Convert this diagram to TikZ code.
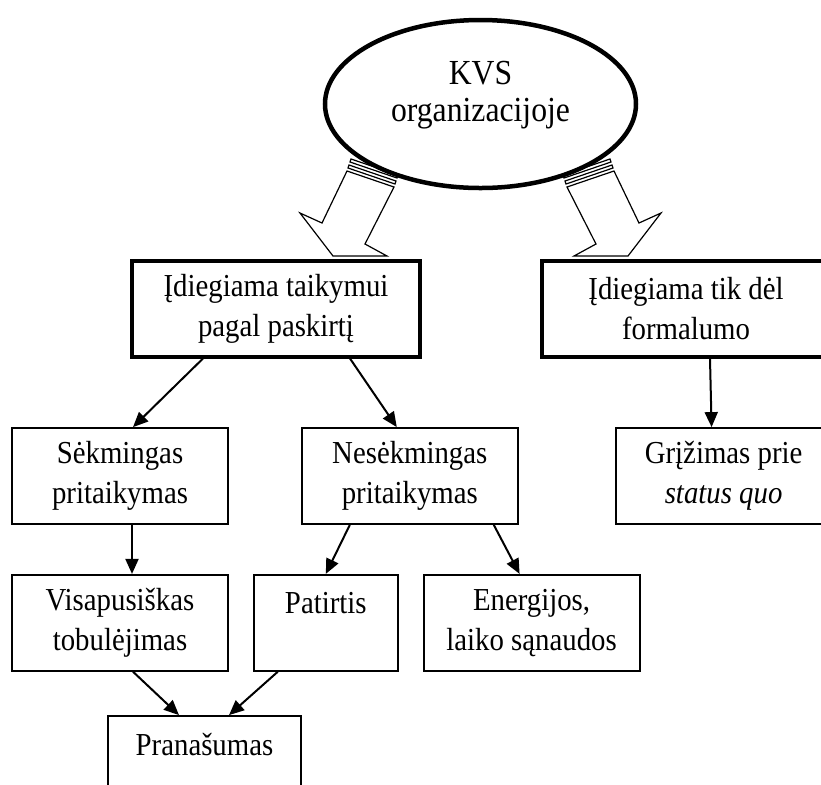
\documentclass[tikz,border=0pt]{standalone}
\usepackage{fontspec}
\setmainfont{Liberation Serif}[FakeStretch=0.9]
\usetikzlibrary{arrows.meta,positioning,shapes.geometric,backgrounds}

\begin{document}
\begin{tikzpicture}[x=0.5pt, y=-0.5pt,
        box/.style={draw, fill=white, line width=0.9pt, align=center,
                    font=\fontsize{16}{20}\selectfont,
                    minimum width=108pt, minimum height=48pt, inner sep=0pt},
        bbox/.style={box, line width=2pt, minimum width=144pt},
        oval/.style={ellipse, draw, fill=white, line width=2.25pt, align=center,
                     font=\fontsize{17.6}{18.5}\selectfont, inner sep=0pt,
                     minimum width=155.5pt, minimum height=84pt, text depth=13pt},
        arr/.style={-{Triangle[length=7.5pt,width=6.5pt]}, line width=1pt},
        blk/.style={draw, fill=white, line width=0.6pt, line join=miter}
      ]
        \useasboundingbox (0,0) rectangle (821,784);
        \node[oval] (kvs) at (480.5,104) {KVS\\organizacijoje};
        \node[bbox] (paskirtis) at (276,308.5) {Įdiegiama taikymui\\pagal paskirtį};
        \node[bbox] (formalumas) [right=59pt of paskirtis] {Įdiegiama tik dėl\\formalumo};
        \node[box] (sekm) at (120,476) {Sėkmingas\\pritaikymas};
        \node[box] (nesekm) [right=36pt of sekm] {Nesėkmingas\\pritaikymas};
        \node[box] (grizimas) [right=48pt of nesekm] {Grįžimas prie\\\textit{status quo}};
        \node[box] (tobulejimas) [below=24.5pt of sekm] {Visapusiškas\\tobulėjimas};
        \node[box, minimum width=72pt] (patirtis) [right=12pt of tobulejimas] {Patirtis\\\mbox{}};
        \node[box] (sanaudos) [right=12pt of patirtis] {Energijos,\\laiko sąnaudos};
        \node[box, minimum width=96.5pt] (pranasumas) at (204.5,764) {Pranašumas\\\mbox{}};
        % striped block arrows out of the ellipse
        \begin{scope}[on background layer]
          \foreach \s in {1,-1} {
            \begin{scope}[shift={(480.5,0)}, xscale=\s]
              \draw[blk] (-129.5,159) -- (-82.5,175) -- (-83.5,178) -- (-130.5,162) -- cycle;
              \draw[blk] (-131.5,165) -- (-84.5,181) -- (-85.5,184) -- (-132.5,168) -- cycle;
              \draw[blk] (-133.5,171) -- (-86.5,187) -- (-115.5,244) -- (-93.5,256)
                -- (-147.5,256) -- (-180.5,213) -- (-158.5,223) -- cycle;
            \end{scope}
          }
        \end{scope}
        \draw[arr] ([xshift=-36.5pt]paskirtis.south) -- ([xshift=6.5pt]sekm.north);
        \draw[arr] ([xshift=37pt]paskirtis.south) -- ([xshift=-6.5pt]nesekm.north);
        \draw[arr] ([xshift=12pt]formalumas.south) -- ([xshift=-6pt]grizimas.north);
        \draw[arr] ([xshift=6pt]sekm.south) -- ([xshift=6pt]tobulejimas.north);
        \draw[arr] ([xshift=-30pt]nesekm.south) -- (patirtis.north);
        \draw[arr] ([xshift=42pt]nesekm.south) -- ([xshift=-6pt]sanaudos.north);
        \draw[arr] ([xshift=6.5pt]tobulejimas.south) -- ([xshift=-12.75pt]pranasumas.north);
        \draw[arr] ([xshift=-24pt]patirtis.south) -- ([xshift=12.25pt]pranasumas.north);
      \end{tikzpicture}
\end{document}
